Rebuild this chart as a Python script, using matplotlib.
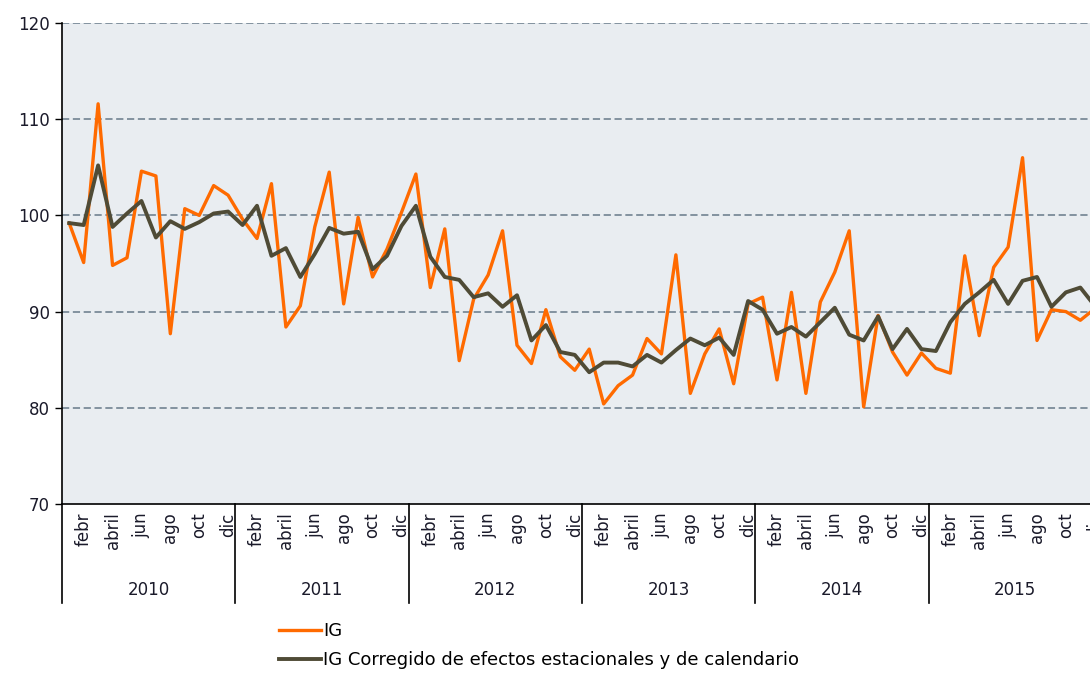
import numpy as np
import matplotlib.pyplot as plt
import matplotlib.transforms as mtransforms

years = ['2010', '2011', '2012', '2013', '2014', '2015']
month_labels = ['', 'febr', '', 'abril', '', 'jun', '', 'ago', '', 'oct', '', 'dic']

# IG (raw index), Jan 2010 .. Dec 2015
ig = [
    99.2, 95.1, 111.6, 94.8, 95.6, 104.6, 104.1, 87.7, 100.7, 100.0, 103.1, 102.1,
    99.6, 97.6, 103.3, 88.4, 90.6, 98.8, 104.5, 90.8, 99.8, 93.6, 96.5, 100.3,
    104.3, 92.5, 98.6, 84.9, 91.3, 93.8, 98.4, 86.5, 84.6, 90.2, 85.3, 83.9,
    86.1, 80.4, 82.3, 83.4, 87.2, 85.6, 95.9, 81.5, 85.6, 88.2, 82.5, 90.8,
    91.5, 82.9, 92.0, 81.5, 91.0, 94.1, 98.4, 80.1, 89.6, 85.8, 83.4, 85.7,
    84.1, 83.6, 95.8, 87.5, 94.6, 96.7, 106.0, 87.0, 90.2, 90.0, 89.1, 90.3,
]

# IG corrected for seasonal and calendar effects
ig_cec = [
    99.2, 99.0, 105.2, 98.8, 100.2, 101.5, 97.7, 99.4, 98.6, 99.3, 100.2, 100.4,
    99.0, 101.0, 95.8, 96.6, 93.6, 96.0, 98.7, 98.1, 98.3, 94.4, 95.8, 98.9,
    101.0, 95.7, 93.6, 93.3, 91.5, 91.9, 90.5, 91.7, 87.0, 88.6, 85.8, 85.5,
    83.7, 84.7, 84.7, 84.3, 85.5, 84.7, 86.0, 87.2, 86.5, 87.3, 85.5, 91.1,
    90.2, 87.7, 88.4, 87.4, 88.9, 90.4, 87.6, 87.0, 89.5, 86.1, 88.2, 86.1,
    85.9, 88.9, 90.8, 92.0, 93.3, 90.8, 93.2, 93.6, 90.5, 92.0, 92.5, 90.6,
]


def main():
    plt.rcParams['font.family'] = ['DejaVu Sans']
    text_col = '#1a1a2a'

    fig = plt.figure(figsize=(10.9, 6.73), dpi=100)
    ax = fig.add_axes([62 / 1090, 1 - 504 / 673, 1040 / 1090, 481 / 673])
    ax.set_facecolor('#e9edf1')

    x = np.arange(len(ig))
    ax.plot(x, ig, color='#ff6a00', lw=2.4, label='IG', zorder=3)
    ax.plot(x, ig_cec, color='#4f4b36', lw=2.8,
            label='IG Corregido de efectos estacionales y de calendario', zorder=4)

    ax.set_ylim(70, 120)
    ax.set_xlim(-0.5, len(years) * 12 - 0.5)
    ax.set_yticks(range(70, 121, 10))
    for v in range(80, 121, 10):
        ax.axhline(v, color='#7b8b99', lw=1.3, ls=(0, (4, 2)), zorder=1)

    ax.set_xticks(np.arange(len(years) * 12))
    ax.set_xticklabels(month_labels * len(years), rotation=90, fontsize=12,
                       color=text_col, va='top')
    ax.tick_params(axis='x', length=0, pad=6)
    ax.tick_params(axis='y', length=5, width=1, color='black', labelsize=12,
                   labelcolor=text_col, pad=4)

    for s in ['top', 'right']:
        ax.spines[s].set_visible(False)
    ax.spines['left'].set_linewidth(1.2)
    ax.spines['bottom'].set_linewidth(1.2)

    trans = mtransforms.blended_transform_factory(ax.transData, ax.transAxes)
    for i, yr in enumerate(years):
        ax.plot([i * 12 - 0.5] * 2, [0, -0.206], color='black', lw=1.2,
                transform=trans, clip_on=False)
        ax.text(i * 12 + 5.5, -0.179, yr, transform=trans, ha='center',
                va='center', fontsize=12, color=text_col)

    fig.legend(loc='upper left', bbox_to_anchor=(279 / 1090, 1 - 622 / 673),
               frameon=False, fontsize=13, handlelength=2.3, handletextpad=0.15,
               labelspacing=0.62, borderaxespad=0, borderpad=0)

    fig.savefig('out.png', dpi=100)


if __name__ == '__main__':
    main()
